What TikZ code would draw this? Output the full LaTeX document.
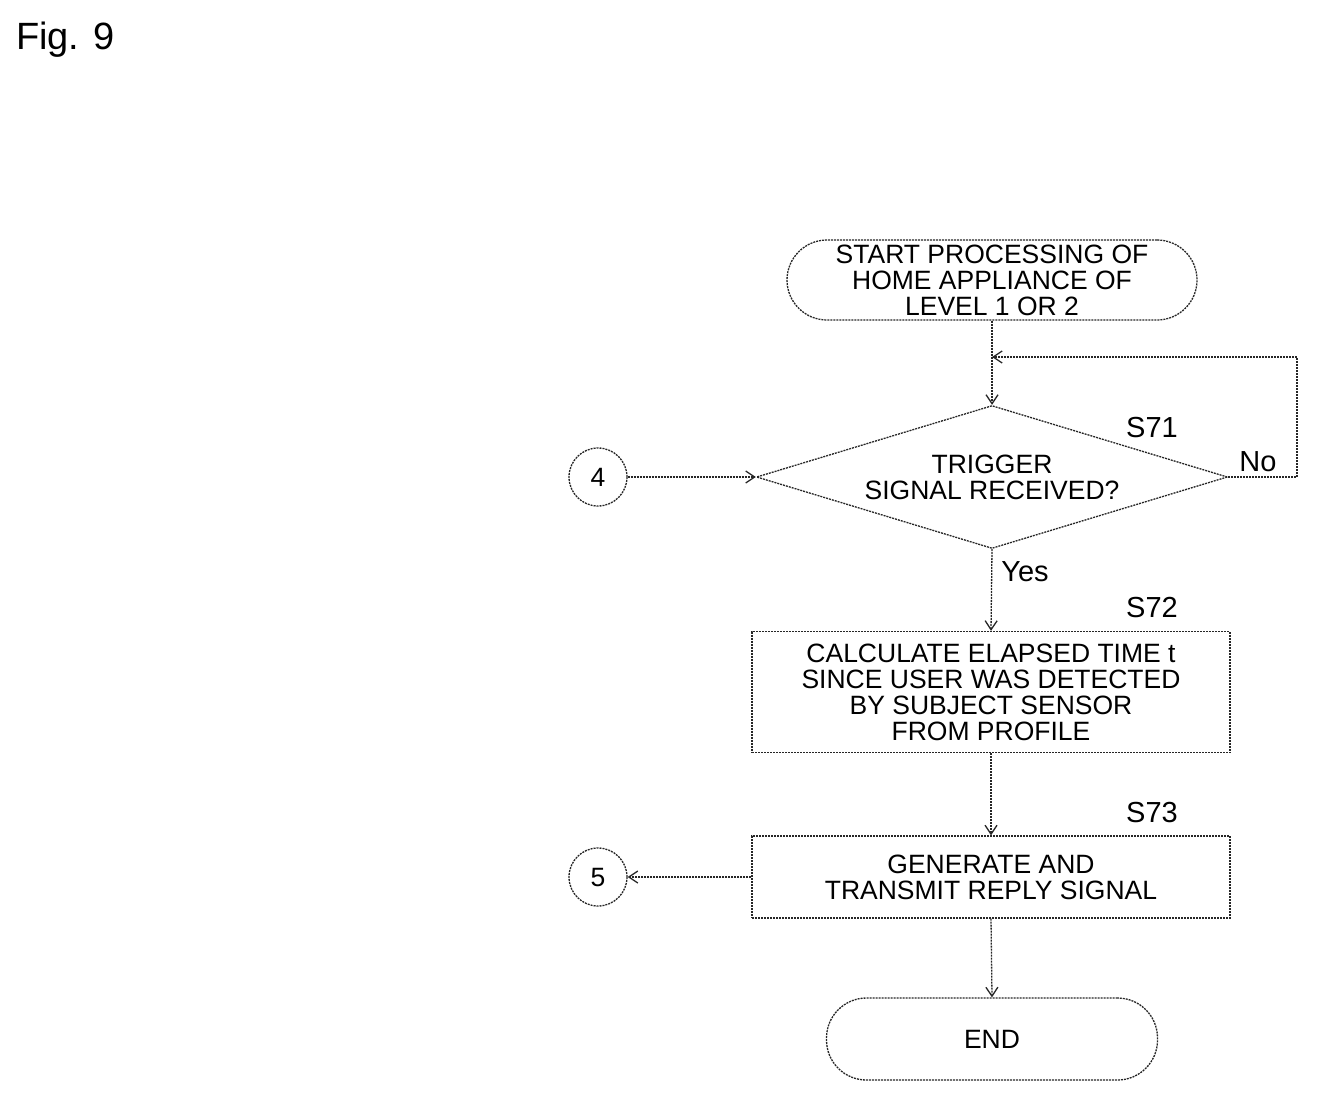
\documentclass[tikz,border=0pt]{standalone}
\usepackage{fontspec}
\setmainfont{Liberation Sans}
\usetikzlibrary{shapes.geometric,arrows.meta}
\begin{document}
\begin{tikzpicture}[x=1pt,y=-1pt,
  every node/.style={font=\fontsize{26.5}{26}\selectfont, align=center, inner sep=0pt},
  ln/.style={draw=black!85, line width=1.3pt, dash pattern=on 2pt off 1pt},
  arr/.style={ln, -{Straight Barb[length=9pt,width=12pt]}},
  lbl/.style={font=\fontsize{29}{29}\selectfont}]
\useasboundingbox (0,0) rectangle (1319,1106);
\node[font=\fontsize{38}{38}\selectfont, anchor=west] (fig) at (16,40) {Fig. 9};
\node[ln, rounded corners=40pt, minimum width=410pt, minimum height=80pt] (start) at (992,280) {START PROCESSING OF\\HOME APPLIANCE OF\\LEVEL 1 OR 2};
\node[ln, diamond, aspect=3.3, minimum width=471pt, minimum height=143pt] (d) at (992,477) {TRIGGER\\SIGNAL RECEIVED?};
\node[ln, circle, minimum size=58pt] (c4) at (598,477) {4};
\node[ln, rectangle, minimum width=478pt, minimum height=121pt] (s72) at (991,692) {CALCULATE ELAPSED TIME t\\SINCE USER WAS DETECTED\\BY SUBJECT SENSOR\\FROM PROFILE};
\node[ln, rectangle, minimum width=478pt, minimum height=82pt] (s73) at (991,877) {GENERATE AND\\TRANSMIT REPLY SIGNAL};
\node[ln, circle, minimum size=58pt] (c5) at (598,877) {5};
\node[ln, rounded corners=40pt, minimum width=331pt, minimum height=82pt] (end) at (992,1039) {END};
\node[lbl] (l71) at (1152,428) {S71};
\node[lbl] (l72) at (1152,608) {S72};
\node[lbl] (l73) at (1152,813) {S73};
\node[lbl] (no) at (1258,462) {No};
\node[lbl] (yes) at (1025,572) {Yes};
\coordinate (j) at (992,357);
\coordinate (r1) at (1297,477);
\coordinate (r2) at (1297,357);
\draw[arr] (start.south) -- (d.north);
\draw[arr] (d.east) -- (r1) -- (r2) -- (j);
\draw[arr] (c4) -- (d.west);
\draw[arr] (d.south) -- (s72.north);
\draw[arr] (s72.south) -- (s73.north);
\draw[arr] (s73.west) -- (c5);
\draw[arr] (s73.south) -- (end.north);
\end{tikzpicture}
\end{document}
